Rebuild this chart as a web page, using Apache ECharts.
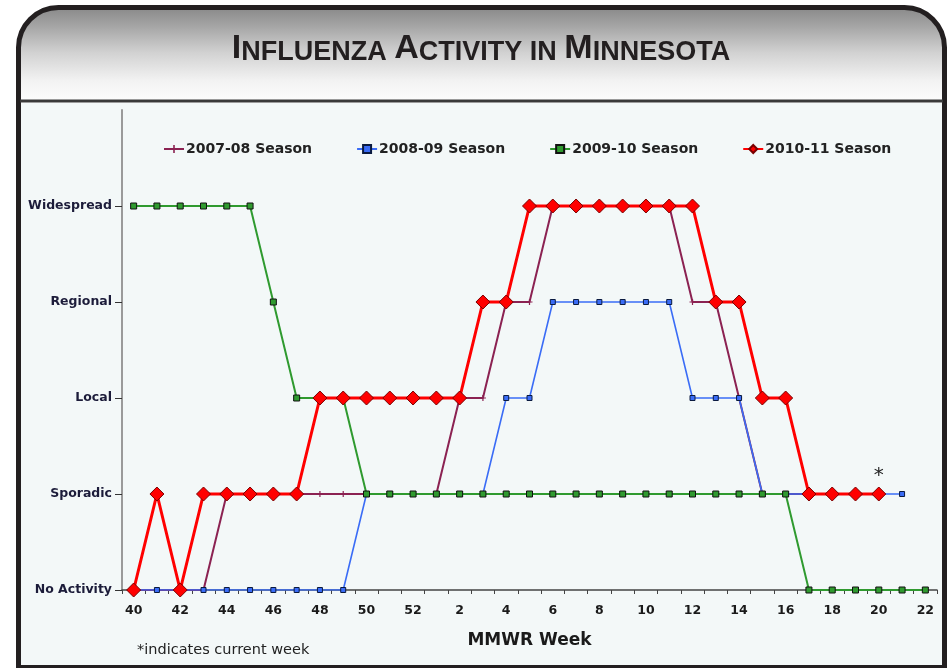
<!DOCTYPE html>
<html>
<head>
<meta charset="utf-8">
<script src="https://cdn.jsdelivr.net/npm/echarts@6/dist/echarts.min.js"></script>
<style>
html,body{margin:0;padding:0;background:#ffffff;}
#chart{width:951px;height:668px;}
</style>
</head>
<body>
<div id="chart"></div>
<script>
// ---- data ----
var weeks = ['40','41','42','43','44','45','46','47','48','49','50','51','52',
  '1','2','3','4','5','6','7','8','9','10','11','12','13','14','15','16','17','18','19','20','21','22'];
var levelNames = ['No Activity','Sporadic','Local','Regional','Widespread'];
var seasonNames = ['2007-08 Season','2008-09 Season','2009-10 Season','2010-11 Season'];
// 0 = No Activity, 1 = Sporadic, 2 = Local, 3 = Regional, 4 = Widespread
var season0708 = [0,0,0,0,1,1,1,1,1,1,1,1,1,1,2,2,3,3,4,4,4,4,4,4,3,3,2,1,1,1,1,1,1,null,null];
var season0809 = [0,0,0,0,0,0,0,0,0,0,1,1,1,1,1,1,2,2,3,3,3,3,3,3,2,2,2,1,1,1,1,1,1,1,null];
var season0910 = [4,4,4,4,4,4,3,2,2,2,1,1,1,1,1,1,1,1,1,1,1,1,1,1,1,1,1,1,1,0,0,0,0,0,0];
var season1011 = [0,1,0,1,1,1,1,1,2,2,2,2,2,2,2,3,3,4,4,4,4,4,4,4,4,3,3,2,2,1,1,1,1,null,null];
var currentWeek = '20';
var titleText = 'Influenza Activity in Minnesota';
var xAxisName = 'MMWR Week';
var footnote = '*indicates current week';

var chart = echarts.init(document.getElementById('chart'), null, {renderer:'canvas'});

// small caps title built from titleText
function smallCaps(t){
  var out = '';
  t.split(' ').forEach(function(w, wi){
    if (wi > 0) out += '{s| }';
    var first = w.charAt(0), rest = w.slice(1);
    if (first === first.toUpperCase()) {
      out += '{b|' + first + '}' + (rest ? '{s|' + rest.toUpperCase() + '}' : '');
    } else {
      out += '{s|' + w.toUpperCase() + '}';
    }
  });
  return out;
}

var plusPath = 'path://M4,0 L6,0 L6,4 L10,4 L10,6 L6,6 L6,10 L4,10 L4,6 L0,6 L0,4 L4,4 Z';

var red1011 = season1011.map(function(v, i){
  if (weeks[i] === currentWeek) {
    return {value: v, label: {show: true, formatter: '*', position: 'top', distance: 1,
      fontSize: 20, color: '#222', fontFamily: 'DejaVu Sans'}};
  }
  return v;
});

var option = {
  animation: false,
  backgroundColor: '#ffffff',
  graphic: [
    {type:'rect', z:-10, shape:{x:18.5, y:7.5, width:926, height:680, r:[40,40,0,0]},
      style:{fill:{type:'linear', x:0, y:0, x2:0, y2:1, global:false,
        colorStops:[{offset:0,color:'#858585'},{offset:0.03,color:'#a4a4a4'},{offset:0.07,color:'#d2d2d2'},{offset:0.11,color:'#f2f2f2'},{offset:0.145,color:'#ffffff'},{offset:1,color:'#ffffff'}]},
        stroke:'#231f20', lineWidth:5}},
    {type:'rect', z:-9, shape:{x:21, y:103, width:921, height:562},
      style:{fill:'#f3f8f8'}},
    {type:'line', z:-8, shape:{x1:20, y1:101, x2:943, y2:101}, style:{stroke:'#3a3a3a', lineWidth:3}},
    {type:'line', z:-8, shape:{x1:16, y1:666.5, x2:947, y2:666.5}, style:{stroke:'#231f20', lineWidth:3}},
    {type:'text', z:5, x:481, y:49, style:{text: smallCaps(titleText), align:'center', verticalAlign:'middle',
      rich:{b:{fontFamily:'Liberation Sans Narrow, Liberation Sans, Arial', fontWeight:'bold', fontSize:34, fill:'#231f20', verticalAlign:'bottom'},
            s:{fontFamily:'Liberation Sans Narrow, Liberation Sans, Arial', fontWeight:'bold', fontSize:27, fill:'#231f20', verticalAlign:'bottom'}}}},
    {type:'text', z:5, x:137, y:650, style:{text: footnote, fontFamily:'DejaVu Sans', fontSize:14.5, fill:'#222', verticalAlign:'middle'}}
  ],
  legend: {
    left: 163, top: 142, padding: 0, itemWidth: 20, itemHeight: 10, itemGap: 44,
    textStyle: {fontFamily:'DejaVu Sans', fontWeight:'bold', fontSize:14, color:'#222', padding:[0,0,0,-3]},
    data: seasonNames
  },
  grid: {left: 122, right: 14, top: 110, bottom: 78, containLabel: false},
  xAxis: {
    type: 'category', data: weeks, boundaryGap: true,
    name: xAxisName, nameLocation: 'middle', nameGap: 42,
    nameTextStyle: {fontFamily:'DejaVu Sans', fontWeight:'bold', fontSize:17, color:'#1a1a1a'},
    axisLine: {lineStyle: {color:'#444', width:1.5}},
    axisTick: {show:true, interval:0, length:4, lineStyle:{color:'#444'}},
    axisLabel: {interval:1, margin:14, fontFamily:'DejaVu Sans', fontWeight:'bold', fontSize:12.5, color:'#1a1a1a'},
    splitLine: {show:false}
  },
  yAxis: {
    type: 'value', min: 0, max: 5, interval: 1,
    axisLine: {show:true, lineStyle:{color:'#9a9a9a', width:2}},
    axisTick: {show:true, length:7, customValues:[0,1,2,3,4], lineStyle:{color:'#333'}},
    axisLabel: {customValues:[0,1,2,3,4], margin:10, fontFamily:'DejaVu Sans', fontWeight:'bold', fontSize:12.5, color:'#1c1c3a',
      formatter: function(v){ return levelNames[v] || ''; }},
    splitLine: {show:false}
  },
  series: [
    {name: seasonNames[0], type:'line', data: season0708, symbol: plusPath, symbolSize: 6,
      lineStyle:{color:'#8b2252', width:2}, itemStyle:{color:'#8b2252'}, z:2},
    {name: seasonNames[1], type:'line', data: season0809, symbol:'rect', symbolSize:5,
      lineStyle:{color:'#3a6cf6', width:1.6}, itemStyle:{color:'#3a6cf6', borderColor:'#0a1a40', borderWidth:1}, z:3},
    {name: seasonNames[2], type:'line', data: season0910, symbol:'rect', symbolSize:6,
      lineStyle:{color:'#2f9a2f', width:2}, itemStyle:{color:'#2f9a2f', borderColor:'#111', borderWidth:1}, z:4},
    {name: seasonNames[3], type:'line', data: red1011, symbol:'diamond', symbolSize:14,
      lineStyle:{color:'#ff0000', width:3}, itemStyle:{color:'#ff0000', borderColor:'#7a0000', borderWidth:1}, z:5}
  ]
};
chart.setOption(option);
</script>
</body>
</html>
